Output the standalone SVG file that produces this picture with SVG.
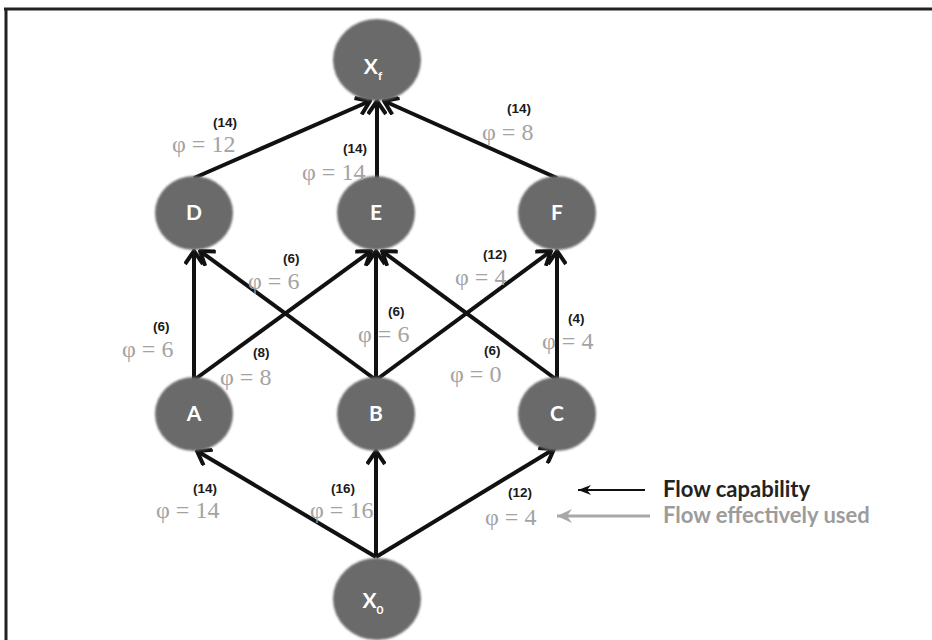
<svg xmlns="http://www.w3.org/2000/svg" width="932" height="640" viewBox="0 0 932 640">
  <style>
    .node { fill: #6a6a6b; }
    .nlabel { font-family: "Lato", "Liberation Sans", Arial, sans-serif; font-weight: bold; font-size: 21px; fill: #ffffff; text-anchor: middle; }
    .nsub { font-size: 12px; }
    .edge { stroke: #111111; stroke-width: 4; fill: none; marker-end: url(#chev); }
    .cap { font-family: "Liberation Sans", Arial, sans-serif; font-weight: bold; font-size: 13.5px; fill: #1a1a1a; }
    .phi { font-family: "Liberation Serif", "Times New Roman", serif; font-size: 24px; fill: #a3a3a3; }
    .leg { font-family: "Lato", "Liberation Sans", sans-serif; font-weight: bold; font-size: 22px; }
  </style>
  <defs>
    <marker id="chev" viewBox="-15 -10 17 20" markerWidth="17" markerHeight="20" refX="0" refY="0" orient="auto" markerUnits="userSpaceOnUse">
      <path d="M-13,-9 L0,0 L-13,9" fill="none" stroke="#111111" stroke-width="4" stroke-linejoin="miter"/>
    </marker>
    <marker id="legBlack" viewBox="-14 -6 16 12" markerWidth="16" markerHeight="12" refX="0" refY="0" orient="auto" markerUnits="userSpaceOnUse">
      <path d="M0,0 L-13,-5 L-9,0 L-13,5 Z" fill="#111111"/>
    </marker>
    <marker id="legGrey" viewBox="-16 -8 18 16" markerWidth="18" markerHeight="16" refX="0" refY="0" orient="auto" markerUnits="userSpaceOnUse">
      <path d="M0,0 L-15,-7 L-10,0 L-15,7 Z" fill="#a8a8a8"/>
    </marker>
    <filter id="soft" x="-10%" y="-10%" width="120%" height="120%">
      <feGaussianBlur stdDeviation="0.8"/>
    </filter>
  </defs>

  <!-- frame -->
  <g id="frame" stroke="#222222" stroke-width="3" fill="none">
    <line x1="4" y1="9" x2="932" y2="9"/>
    <line x1="6" y1="8" x2="6" y2="640"/>
  </g>

  <!-- connectors -->
  <g id="connectors">
    <line class="edge" x1="194" y1="178" x2="370" y2="101"/>
    <line class="edge" x1="377" y1="178" x2="377" y2="101"/>
    <line class="edge" x1="557" y1="178" x2="384" y2="101"/>

    <line class="edge" x1="194" y1="380" x2="194" y2="251"/>
    <line class="edge" x1="194" y1="380" x2="371" y2="251"/>
    <line class="edge" x1="376" y1="380" x2="200" y2="251"/>
    <line class="edge" x1="376" y1="380" x2="376" y2="251"/>
    <line class="edge" x1="376" y1="380" x2="551" y2="251"/>
    <line class="edge" x1="557" y1="380" x2="382" y2="251"/>
    <line class="edge" x1="557" y1="380" x2="557" y2="251"/>

    <line class="edge" x1="376" y1="557" x2="197" y2="451"/>
    <line class="edge" x1="376" y1="557" x2="376" y2="451"/>
    <line class="edge" x1="376" y1="557" x2="554" y2="449"/>
  </g>

  <!-- nodes -->
  <g id="node-xf">
    <ellipse class="node" cx="377" cy="60" rx="44" ry="41" filter="url(#soft)"/>
    <text class="nlabel" x="373" y="74">X<tspan class="nsub" dy="6">f</tspan></text>
  </g>
  <g id="node-d">
    <ellipse class="node" cx="194" cy="213" rx="39" ry="37" filter="url(#soft)"/>
    <text class="nlabel" x="194" y="220">D</text>
  </g>
  <g id="node-e">
    <ellipse class="node" cx="376" cy="213" rx="39" ry="37" filter="url(#soft)"/>
    <text class="nlabel" x="376" y="220">E</text>
  </g>
  <g id="node-f">
    <ellipse class="node" cx="557" cy="213" rx="39" ry="37" filter="url(#soft)"/>
    <text class="nlabel" x="557" y="220">F</text>
  </g>
  <g id="node-a">
    <ellipse class="node" cx="194" cy="414" rx="39" ry="37" filter="url(#soft)"/>
    <text class="nlabel" x="194" y="421">A</text>
  </g>
  <g id="node-b">
    <ellipse class="node" cx="376" cy="414" rx="39" ry="37" filter="url(#soft)"/>
    <text class="nlabel" x="376" y="421">B</text>
  </g>
  <g id="node-c">
    <ellipse class="node" cx="557" cy="414" rx="39" ry="37" filter="url(#soft)"/>
    <text class="nlabel" x="557" y="421">C</text>
  </g>
  <g id="node-x0">
    <ellipse class="node" cx="377" cy="599" rx="44" ry="41" filter="url(#soft)"/>
    <text class="nlabel" x="373" y="608">X<tspan class="nsub" dy="6">0</tspan></text>
  </g>

  <!-- edge labels: capability (bold) and used flow (grey) -->
  <g id="edge-labels">
    <text class="cap" x="213" y="127">(14)</text>
    <text class="phi" x="172" y="152">φ = 12</text>

    <text class="cap" x="343" y="153">(14)</text>
    <text class="phi" x="302" y="180">φ = 14</text>

    <text class="cap" x="507" y="113">(14)</text>
    <text class="phi" x="482" y="140">φ = 8</text>

    <text class="cap" x="283" y="263">(6)</text>
    <text class="phi" x="248" y="289">φ = 6</text>

    <text class="cap" x="483" y="259">(12)</text>
    <text class="phi" x="455" y="285">φ = 4</text>

    <text class="cap" x="153" y="331">(6)</text>
    <text class="phi" x="122" y="357">φ = 6</text>

    <text class="cap" x="388" y="316">(6)</text>
    <text class="phi" x="358" y="342">φ = 6</text>

    <text class="cap" x="568" y="323">(4)</text>
    <text class="phi" x="542" y="349">φ = 4</text>

    <text class="cap" x="253" y="357">(8)</text>
    <text class="phi" x="220" y="385">φ = 8</text>

    <text class="cap" x="484" y="355">(6)</text>
    <text class="phi" x="450" y="382">φ = 0</text>

    <text class="cap" x="193" y="493">(14)</text>
    <text class="phi" x="156" y="518">φ = 14</text>

    <text class="cap" x="331" y="493">(16)</text>
    <text class="phi" x="310" y="518">φ = 16</text>

    <text class="cap" x="508" y="497">(12)</text>
    <text class="phi" x="485" y="525">φ = 4</text>
  </g>

  <!-- legend -->
  <g id="legend">
    <line x1="645" y1="490" x2="578" y2="490" stroke="#111111" stroke-width="2" marker-end="url(#legBlack)"/>
    <text class="leg" x="663" y="497" fill="#222222">Flow capability</text>
    <line x1="650" y1="516" x2="557" y2="516" stroke="#a8a8a8" stroke-width="3" marker-end="url(#legGrey)"/>
    <text class="leg" x="663" y="523" fill="#9c9c9c">Flow effectively used</text>
  </g>
</svg>
